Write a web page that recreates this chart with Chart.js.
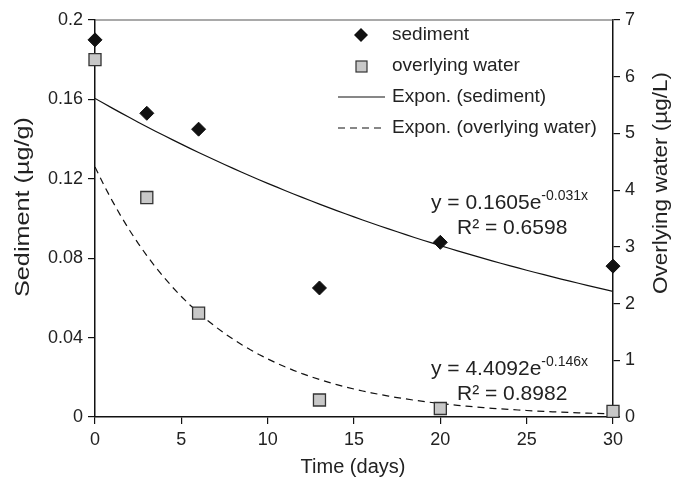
<!DOCTYPE html>
<html lang="en">
<head>
<meta charset="UTF-8">
<title>Sediment and overlying water</title>
<script src="https://cdn.jsdelivr.net/npm/chart.js@4"></script>
<style>
  html, body { margin: 0; padding: 0; background: #fff; }
  #wrap { width: 673px; height: 480px; position: relative; }
</style>
</head>
<body>
<div id="wrap"><canvas id="chart"></canvas></div>
<script>
// data
const days = [0, 3, 6, 13, 20, 30];
const sediment = [0.190, 0.153, 0.145, 0.065, 0.088, 0.076];      // µg/g (left axis)
const overlyingWater = [6.30, 3.87, 1.83, 0.30, 0.15, 0.10];       // µg/L (right axis)

// trendline coefficients as printed on the chart: y = a * e^(b*x)
const sedimentFit = [0.1605, -0.031];
const waterFit = [4.4092, -0.146];
const fitLabels = ['y = 0.1605e', '-0.031x', 'R² = 0.6598', 'y = 4.4092e', '-0.146x', 'R² = 0.8982'];

const xTicks = [0, 5, 10, 15, 20, 25, 30];

function trend(coef) {
  const pts = [];
  for (let x = 0; x <= 30; x += 0.5) pts.push({ x: x, y: coef[0] * Math.exp(coef[1] * x) });
  return pts;
}

const FONT = '"Liberation Sans", Arial, sans-serif';
const GREY = 'rgb(200,200,200)';
const INK = '#222';

// vertical title, stretched along its length to the wanted size
function vTitle(ctx, text, x, y, len) {
  ctx.save();
  ctx.font = '21px ' + FONT;
  const w = ctx.measureText(text).width;
  ctx.translate(x, y);
  ctx.rotate(-Math.PI / 2);
  ctx.scale(len / w, 1);
  ctx.textAlign = 'center';
  ctx.textBaseline = 'middle';
  ctx.fillText(text, 0, 0);
  ctx.restore();
}

// legend, equations, axis titles and top frame line
const extras = {
  id: 'extras',
  afterDraw(chart) {
    const { ctx, chartArea: ca } = chart;
    ctx.save();
    ctx.strokeStyle = '#555';
    ctx.lineWidth = 1.2;
    ctx.beginPath();
    ctx.moveTo(ca.left, ca.top);
    ctx.lineTo(ca.right, ca.top);
    ctx.stroke();

    ctx.fillStyle = INK;
    vTitle(ctx, 'Sediment (µg/g)', 23, 207, 180);
    vTitle(ctx, 'Overlying water (µg/L)', 661, 183, 222);

    // x title
    ctx.font = '20px ' + FONT;
    ctx.textAlign = 'center';
    ctx.textBaseline = 'middle';
    ctx.fillText('Time (days)', 353, 467);

    // legend
    ctx.textAlign = 'left';
    ctx.font = '19px ' + FONT;
    const tx = 392;
    ctx.fillText('sediment', tx, 35);
    ctx.fillText('overlying water', tx, 66);
    ctx.fillText('Expon. (sediment)', tx, 97);
    ctx.fillText('Expon. (overlying water)', tx, 128);

    // diamond
    ctx.fillStyle = '#111';
    ctx.beginPath();
    ctx.moveTo(361, 28); ctx.lineTo(368, 35); ctx.lineTo(361, 42); ctx.lineTo(354, 35);
    ctx.closePath(); ctx.fill();
    // square
    ctx.fillStyle = GREY; ctx.strokeStyle = '#333'; ctx.lineWidth = 1.2;
    ctx.fillRect(356, 61, 11, 11); ctx.strokeRect(356, 61, 11, 11);
    // lines
    ctx.strokeStyle = '#111'; ctx.lineWidth = 1.2;
    ctx.beginPath(); ctx.moveTo(338, 97); ctx.lineTo(385, 97); ctx.stroke();
    ctx.setLineDash([7, 5]);
    ctx.beginPath(); ctx.moveTo(338, 128); ctx.lineTo(385, 128); ctx.stroke();
    ctx.setLineDash([]);

    // trendline equations
    ctx.fillStyle = INK;
    ctx.font = '21px ' + FONT;
    const e1 = 431 + ctx.measureText(fitLabels[0]).width;
    const e2 = 431 + ctx.measureText(fitLabels[3]).width;
    ctx.fillText(fitLabels[0], 431, 203);
    ctx.fillText(fitLabels[2], 457, 228);
    ctx.fillText(fitLabels[3], 431, 369);
    ctx.fillText(fitLabels[5], 457, 394);
    ctx.font = '14px ' + FONT;
    ctx.fillText(fitLabels[1], e1, 196);
    ctx.fillText(fitLabels[4], e2, 362);
    ctx.restore();
  }
};

const tickStyle = {
  display: true, drawOnChartArea: false, drawTicks: true,
  tickLength: 7, tickColor: '#111', lineWidth: 1.2
};

new Chart(document.getElementById('chart'), {
  type: 'scatter',
  data: {
    datasets: [
      {
        label: 'sediment',
        data: days.map((d, i) => ({ x: d, y: sediment[i] })),
        yAxisID: 'y',
        pointStyle: 'rectRot', pointRadius: 7,
        backgroundColor: '#111', borderColor: '#111', borderWidth: 1,
        clip: false, order: 1
      },
      {
        label: 'overlying water',
        data: days.map((d, i) => ({ x: d, y: overlyingWater[i] })),
        yAxisID: 'y2',
        pointStyle: 'rect', pointRadius: 8.5,
        backgroundColor: GREY, borderColor: '#333', borderWidth: 1.3,
        clip: false, order: 2
      },
      {
        label: 'Expon. (sediment)',
        data: trend(sedimentFit),
        yAxisID: 'y',
        showLine: true, pointRadius: 0,
        borderColor: '#111', borderWidth: 1.2,
        order: 3
      },
      {
        label: 'Expon. (overlying water)',
        data: trend(waterFit),
        yAxisID: 'y2',
        showLine: true, pointRadius: 0,
        borderColor: '#111', borderWidth: 1.2, borderDash: [7, 5],
        order: 4
      }
    ]
  },
  options: {
    responsive: true,
    maintainAspectRatio: false,
    animation: false,
    layout: { padding: { top: 20, left: 0, right: 0, bottom: 0 } },
    plugins: { legend: { display: false }, tooltip: { enabled: false } },
    scales: {
      x: {
        type: 'linear', min: 0, max: 30,
        afterBuildTicks: (s) => { s.ticks = xTicks.map(v => ({ value: v })); },
        grid: tickStyle,
        border: { display: true, color: '#111', width: 1.5 },
        ticks: { color: INK, font: { family: FONT, size: 18 }, padding: 5 },
        afterFit: (s) => { s.height = 63; }
      },
      y: {
        position: 'left', min: 0, max: 0.2,
        ticks: { stepSize: 0.04, color: INK, font: { family: FONT, size: 18 }, padding: 5,
          callback: (v) => String(Math.round(v * 100) / 100) },
        grid: tickStyle,
        border: { display: true, color: '#111', width: 1.5 },
        afterFit: (s) => { s.width = 95; }
      },
      y2: {
        position: 'right', min: 0, max: 7,
        ticks: { stepSize: 1, color: INK, font: { family: FONT, size: 18 }, padding: 5 },
        grid: tickStyle,
        border: { display: true, color: '#111', width: 1.5 },
        afterFit: (s) => { s.width = 60; }
      }
    }
  },
  plugins: [extras]
});
</script>
</body>
</html>
